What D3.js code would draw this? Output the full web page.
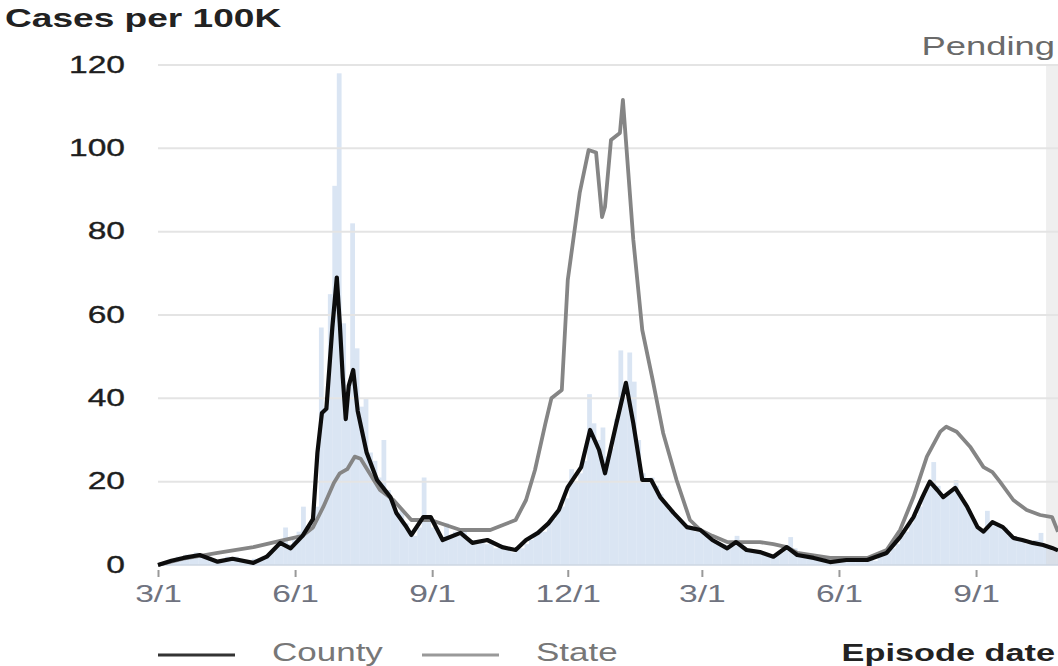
<!DOCTYPE html>
<html>
<head>
<meta charset="utf-8">
<script src="https://cdn.jsdelivr.net/npm/d3@7/dist/d3.min.js"></script>
<style>
  html, body { margin: 0; padding: 0; background: #fff; }
  svg { display: block; font-family: "Liberation Sans", Arial, sans-serif; }
</style>
</head>
<body>
<div id="chart"></div>
<script>
// ---- data ----
const countyDates = ["2020-03-01","2020-03-10","2020-03-18","2020-03-29","2020-04-10","2020-04-20","2020-05-04","2020-05-13","2020-05-22","2020-05-29","2020-06-06","2020-06-13","2020-06-16","2020-06-19","2020-06-22","2020-06-26","2020-06-29","2020-07-01","2020-07-03","2020-07-05","2020-07-07","2020-07-10","2020-07-13","2020-07-19","2020-07-26","2020-08-04","2020-08-08","2020-08-14","2020-08-18","2020-08-26","2020-08-31","2020-09-08","2020-09-20","2020-09-28","2020-10-08","2020-10-18","2020-10-27","2020-11-03","2020-11-11","2020-11-18","2020-11-25","2020-12-01","2020-12-10","2020-12-16","2020-12-22","2020-12-26","2021-01-02","2021-01-09","2021-01-14","2021-01-20","2021-01-26","2021-02-01","2021-02-10","2021-02-19","2021-02-28","2021-03-08","2021-03-18","2021-03-24","2021-03-31","2021-04-09","2021-04-18","2021-04-27","2021-05-04","2021-05-15","2021-05-26","2021-06-06","2021-06-20","2021-06-26","2021-07-03","2021-07-12","2021-07-21","2021-07-27","2021-08-01","2021-08-06","2021-08-10","2021-08-18","2021-08-26","2021-09-02","2021-09-06","2021-09-12","2021-09-19","2021-09-26","2021-10-02","2021-10-09","2021-10-16","2021-10-22","2021-10-26"];
const countyValues = [0,1,1.7,2.4,0.8,1.5,0.5,2,5.3,4,7,11,27,36.5,37.5,57,69,58,45,35,43,46.8,37,27,20.4,16.3,12.5,9.5,7.2,11.5,11.5,6,7.7,5.3,6,4.3,3.6,6,7.7,10,13.2,18.7,23.5,32.4,27.6,22,33,43.7,34,20.4,20.4,16.3,12.5,9.1,8.4,6,4,5.5,3.6,3.1,2,4.3,2.4,1.7,0.7,1.2,1.2,2,2.9,6.7,11.5,16.3,20,18,16.3,18.5,14,9.1,8,10.3,9.1,6.5,6,5.3,4.8,4.1,3.5];

const stateDates = ["2020-03-01","2020-03-18","2020-04-10","2020-05-04","2020-05-22","2020-06-06","2020-06-13","2020-06-20","2020-06-27","2020-07-01","2020-07-06","2020-07-11","2020-07-15","2020-07-21","2020-07-28","2020-08-06","2020-08-18","2020-08-31","2020-09-20","2020-10-10","2020-10-27","2020-11-03","2020-11-09","2020-11-16","2020-11-20","2020-11-27","2020-12-01","2020-12-09","2020-12-15","2020-12-20","2020-12-24","2020-12-26","2020-12-30","2021-01-05","2021-01-07","2021-01-09","2021-01-14","2021-01-20","2021-01-27","2021-02-03","2021-02-12","2021-02-21","2021-02-28","2021-03-08","2021-03-18","2021-04-09","2021-04-18","2021-04-27","2021-05-04","2021-05-26","2021-06-20","2021-07-03","2021-07-12","2021-07-21","2021-07-30","2021-08-08","2021-08-12","2021-08-19","2021-08-28","2021-09-06","2021-09-12","2021-09-17","2021-09-26","2021-10-05","2021-10-14","2021-10-22","2021-10-26"];
const stateValues = [0,1.5,2.9,4.3,5.8,7,9,14,19.7,22,23,26,25.5,22,18,15.6,10.8,10.8,8.4,8.4,10.8,15.6,22.8,34,40,42,68.4,89.3,99.6,99,83.5,86,102,103.7,111.6,102,78,56.4,44.4,31.7,20.4,10.8,8.4,7,5.5,5.5,5,4.3,2.9,1.7,1.7,3.6,8.4,16.3,26,32,33.2,32,28.4,23.5,22.3,20,15.6,13.2,12,11.5,8];

// daily county counts, grouped in 3-day bins starting 3/1/2020
const barStart = "2020-03-01";
const barDays = 3;
const barValues = [0,0.5,1,1,2,1.5,2.5,2,3,2.5,2,2,1.5,1,1.5,2,1.5,2,1.5,1,1,1.5,1,2,2.5,3,4,6,9,5,6,8,14,9,10,14,57,38,65,91,118,58,40,82,52,38,40,27,25,21,30,18,15,12,13,10,8,7,9,21,11,9,8,6,10,7,8,7,8,6,6,5,6,5,6,4,5,4,4,3,4,4,5,6,7,8,8,10,11,13,14,16,23,20,22,25,41,34,30,33,26,28,35,51.5,40,51,44,30,22,20,21,19,17,15,13,12,11,10,9,9,8,8,7,7,6,5,5,4,5,7,5,4,3.5,3,3,3,2.5,2,2.5,3,4,6.7,4,3,2.5,2,2,1.5,1.5,1,1,1,1,1.5,1,1,1.5,1,1,1.5,1,2,2.5,3,4,5,7,8,10,12,14,17,19,24.7,19,17,17,18,20.4,17,15,13,11,9,8,13,10,10,9,9,7,6,6,6,5,5,6,7.7,5,4,4,3];

const yTicks = [0, 20, 40, 60, 80, 100, 120];
const xTicks = ["2020-03-01","2020-06-01","2020-09-01","2020-12-01","2021-03-01","2021-06-01","2021-09-01"];
const xDomain = ["2020-03-01", "2021-10-26"];
const pendingFrom = "2021-10-18";
const legendNames = ["County", "State"];

// ---- layout ----
const W = 1058, H = 666;
const SX = 1.4; // the reference is stretched horizontally
const plot = { left: 158, right: 1058, top: 65, bottom: 565 };
const parse = d3.utcParse("%Y-%m-%d");

const x = d3.scaleUtc().domain(xDomain.map(parse)).range([plot.left, plot.right]);
const y = d3.scaleLinear().domain([0, 120]).range([plot.bottom, plot.top]);

const svg = d3.select("#chart").append("svg").attr("width", W).attr("height", H);

function stretch(sel) {
    sel.each(function () {
        const t = d3.select(this);
        const tx = +t.attr("x") || 0, ty = +t.attr("y") || 0;
        t.attr("x", 0).attr("y", 0).attr("transform", `translate(${tx},${ty}) scale(${SX},1)`);
    });
}

// bars
const start = parse(barStart);
const bars = barValues.map((v, i) => ({ d: d3.utcDay.offset(start, i * barDays), v }));
svg.append("g")
    .selectAll("rect")
    .data(bars)
    .enter().append("rect")
    .attr("x", d => x(d.d))
    .attr("width", d => x(d3.utcDay.offset(d.d, barDays)) - x(d.d) + 0.3)
    .attr("y", d => y(d.v))
    .attr("height", d => y(0) - y(d.v))
    .attr("fill", "#dae5f3");

// pending band
const pendX = x(parse(pendingFrom));
svg.append("rect")
    .attr("x", pendX)
    .attr("y", plot.top)
    .attr("width", plot.right - pendX)
    .attr("height", plot.bottom - plot.top)
    .attr("fill", "#d8d8d8")
    .attr("opacity", 0.4);

// gridlines
svg.append("g")
    .selectAll("line")
    .data(yTicks.filter(t => t > 0))
    .enter().append("line")
    .attr("x1", plot.left).attr("x2", plot.right)
    .attr("y1", d => y(d)).attr("y2", d => y(d))
    .attr("stroke", "#e4e4e4")
    .attr("stroke-width", 2);

svg.append("line")
    .attr("x1", plot.left).attr("x2", plot.right)
    .attr("y1", y(0)).attr("y2", y(0))
    .attr("stroke", "#ccd6e2")
    .attr("stroke-width", 1.5);

// lines
const line = d3.line().x(d => x(d[0])).y(d => y(d[1]));
const statePts = stateDates.map((d, i) => [parse(d), stateValues[i]]);
const countyPts = countyDates.map((d, i) => [parse(d), countyValues[i]]);

svg.append("path")
    .datum(statePts)
    .attr("fill", "none")
    .attr("stroke", "#858585")
    .attr("stroke-width", 3.8)
    .attr("stroke-linejoin", "round")
    .attr("d", line);

svg.append("path")
    .datum(countyPts)
    .attr("fill", "none")
    .attr("stroke", "#0d0d0d")
    .attr("stroke-width", 4.2)
    .attr("stroke-linejoin", "round")
    .attr("d", line);

// y axis
const yAxis = svg.append("g")
    .attr("transform", `translate(${plot.left},0)`)
    .call(d3.axisLeft(y).tickValues(yTicks).tickSize(0).tickPadding(33));
yAxis.select(".domain").remove();
yAxis.selectAll("text")
    .style("font-size", "24px")
    .style("font-family", "'Liberation Sans', Arial, sans-serif")
    .attr("fill", "#1e1e1e")
    .attr("stroke", "#1e1e1e")
    .attr("stroke-width", 0.35)
    .attr("dy", "0.3em")
    .call(stretch);

// x axis
const xAxis = svg.append("g")
    .attr("transform", `translate(0,${plot.bottom})`)
    .call(d3.axisBottom(x).tickValues(xTicks.map(parse)).tickFormat(d3.utcFormat("%-m/%-d")).tickSize(12));
xAxis.select(".domain").remove();
xAxis.selectAll("line").attr("y1", 5).attr("y2", 12).attr("stroke", "#999").attr("stroke-width", 2);
xAxis.selectAll("text")
    .style("font-size", "24px")
    .style("font-family", "'Liberation Sans', Arial, sans-serif")
    .attr("fill", "#6f7380")
    .attr("y", 37)
    .attr("dy", 0)
    .call(stretch);

// title
svg.append("text")
    .attr("x", 5).attr("y", 27)
    .attr("font-size", 26.5)
    .attr("font-weight", "bold")
    .attr("fill", "#222")
    .text("Cases per 100K")
    .call(stretch);

svg.append("text")
    .attr("x", 1055).attr("y", 55)
    .attr("text-anchor", "end")
    .attr("font-size", 26)
    .attr("fill", "#6a6a6a")
    .text("Pending")
    .call(stretch);

// legend
const legendColors = ["#333", "#999"];
const legendX = [158, 422];
legendNames.forEach((name, i) => {
    svg.append("line")
        .attr("x1", legendX[i]).attr("x2", legendX[i] + 77)
        .attr("y1", 655).attr("y2", 655)
        .attr("stroke", legendColors[i])
        .attr("stroke-width", 3);
    svg.append("text")
        .attr("x", legendX[i] + 114).attr("y", 661)
        .attr("font-size", 25)
        .attr("fill", "#777")
        .text(name)
        .call(stretch);
});

svg.append("text")
    .attr("x", 1055).attr("y", 661)
    .attr("text-anchor", "end")
    .attr("font-size", 24.5)
    .attr("font-weight", "bold")
    .attr("fill", "#222")
    .text("Episode date")
    .call(stretch);
</script>
</body>
</html>
